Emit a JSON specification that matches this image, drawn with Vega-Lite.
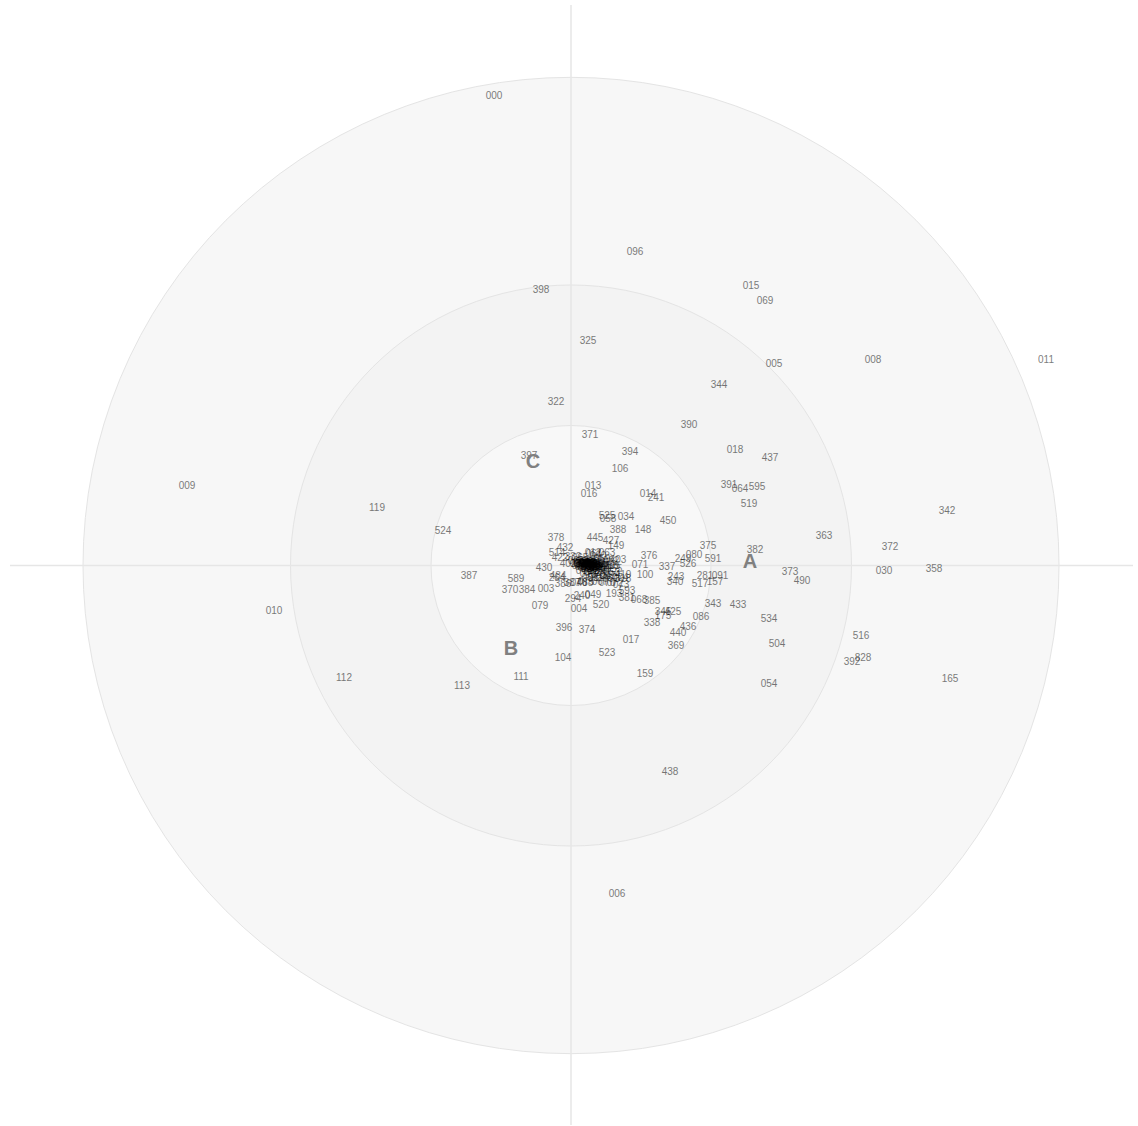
{
  "$schema": "https://vega.github.io/schema/vega-lite/v6.json",
  "width": 1138,
  "height": 1126,
  "autosize": {"type": "fit", "contains": "padding"},
  "padding": 0,
  "background": "white",
  "config": {"view": {"stroke": null}},
  "datasets": {
    "center": [{"x": 0, "y": 0}],
    "axes": [
      {"x": 0, "x2": 0, "y": 561, "y2": -560},
      {"x": -561, "x2": 562, "y": 0, "y2": 0}
    ],
    "groups": [
      {"label": "A", "x": 179, "y": 5},
      {"label": "B", "x": -60, "y": -83},
      {"label": "C", "x": -38, "y": 105}
    ],
    "labels": [
      {"id": "000", "x": -77, "y": 471},
      {"id": "096", "x": 64, "y": 315},
      {"id": "015", "x": 180, "y": 281},
      {"id": "069", "x": 194, "y": 266},
      {"id": "398", "x": -30, "y": 277},
      {"id": "325", "x": 17, "y": 226},
      {"id": "005", "x": 203, "y": 203},
      {"id": "008", "x": 302, "y": 207},
      {"id": "011", "x": 475, "y": 207},
      {"id": "344", "x": 148, "y": 182},
      {"id": "322", "x": -15, "y": 165},
      {"id": "390", "x": 118, "y": 142},
      {"id": "371", "x": 19, "y": 132},
      {"id": "018", "x": 164, "y": 117},
      {"id": "437", "x": 199, "y": 109},
      {"id": "394", "x": 59, "y": 115},
      {"id": "397", "x": -42, "y": 111},
      {"id": "106", "x": 49, "y": 98},
      {"id": "009", "x": -384, "y": 81},
      {"id": "013", "x": 22, "y": 81},
      {"id": "016", "x": 18, "y": 73},
      {"id": "391", "x": 158, "y": 82},
      {"id": "064", "x": 169, "y": 78},
      {"id": "595", "x": 186, "y": 80},
      {"id": "014", "x": 77, "y": 73},
      {"id": "241", "x": 85, "y": 69},
      {"id": "519", "x": 178, "y": 63},
      {"id": "119", "x": -194, "y": 59},
      {"id": "342", "x": 376, "y": 56},
      {"id": "525", "x": 36, "y": 51},
      {"id": "058", "x": 37, "y": 48},
      {"id": "034", "x": 55, "y": 50},
      {"id": "450", "x": 97, "y": 46},
      {"id": "524", "x": -128, "y": 36},
      {"id": "388", "x": 47, "y": 37},
      {"id": "148", "x": 72, "y": 37},
      {"id": "363", "x": 253, "y": 31},
      {"id": "378", "x": -15, "y": 29},
      {"id": "445", "x": 24, "y": 29},
      {"id": "427", "x": 40, "y": 26},
      {"id": "149", "x": 45, "y": 21},
      {"id": "375", "x": 137, "y": 21},
      {"id": "372", "x": 319, "y": 20},
      {"id": "382", "x": 184, "y": 17},
      {"id": "432", "x": -6, "y": 19},
      {"id": "514", "x": -14, "y": 14},
      {"id": "376", "x": 78, "y": 11},
      {"id": "249", "x": 112, "y": 8},
      {"id": "080", "x": 123, "y": 12},
      {"id": "591", "x": 142, "y": 8},
      {"id": "422", "x": -11, "y": 9},
      {"id": "526", "x": 117, "y": 2},
      {"id": "071", "x": 69, "y": 1},
      {"id": "337", "x": 96, "y": -1},
      {"id": "430", "x": -27, "y": -2},
      {"id": "373", "x": 219, "y": -6},
      {"id": "030", "x": 313, "y": -5},
      {"id": "358", "x": 363, "y": -3},
      {"id": "387", "x": -102, "y": -10},
      {"id": "281", "x": 134, "y": -10},
      {"id": "091", "x": 149, "y": -10},
      {"id": "100", "x": 74, "y": -9},
      {"id": "243", "x": 105, "y": -11},
      {"id": "340", "x": 104, "y": -16},
      {"id": "517", "x": 129, "y": -18},
      {"id": "157", "x": 144, "y": -16},
      {"id": "490", "x": 231, "y": -15},
      {"id": "589", "x": -55, "y": -13},
      {"id": "484", "x": -13, "y": -10},
      {"id": "264", "x": -14, "y": -12},
      {"id": "386", "x": -8, "y": -18},
      {"id": "387", "x": 1, "y": -17},
      {"id": "488", "x": 14, "y": -17},
      {"id": "370", "x": -61, "y": -24},
      {"id": "384", "x": -44, "y": -24},
      {"id": "003", "x": -25, "y": -23},
      {"id": "593", "x": 56, "y": -25},
      {"id": "193", "x": 43, "y": -28},
      {"id": "381", "x": 56, "y": -32},
      {"id": "068", "x": 68, "y": -34},
      {"id": "385", "x": 81, "y": -35},
      {"id": "294", "x": 2, "y": -33},
      {"id": "240", "x": 11, "y": -30},
      {"id": "049", "x": 22, "y": -29},
      {"id": "010", "x": -297, "y": -45},
      {"id": "079", "x": -31, "y": -40},
      {"id": "004", "x": 8, "y": -43},
      {"id": "520", "x": 30, "y": -39},
      {"id": "343", "x": 142, "y": -38},
      {"id": "433", "x": 167, "y": -39},
      {"id": "345", "x": 92, "y": -46},
      {"id": "425", "x": 102, "y": -46},
      {"id": "175", "x": 92, "y": -50},
      {"id": "086", "x": 130, "y": -51},
      {"id": "338", "x": 81, "y": -57},
      {"id": "534", "x": 198, "y": -53},
      {"id": "436", "x": 117, "y": -61},
      {"id": "396", "x": -7, "y": -62},
      {"id": "374", "x": 16, "y": -64},
      {"id": "440", "x": 107, "y": -67},
      {"id": "516", "x": 290, "y": -70},
      {"id": "017", "x": 60, "y": -74},
      {"id": "369", "x": 105, "y": -80},
      {"id": "504", "x": 206, "y": -78},
      {"id": "523", "x": 36, "y": -87},
      {"id": "104", "x": -8, "y": -92},
      {"id": "392", "x": 281, "y": -96},
      {"id": "828", "x": 292, "y": -92},
      {"id": "159", "x": 74, "y": -108},
      {"id": "111", "x": -50, "y": -111},
      {"id": "112", "x": -227, "y": -112},
      {"id": "165", "x": 379, "y": -113},
      {"id": "113", "x": -109, "y": -120},
      {"id": "054", "x": 198, "y": -118},
      {"id": "438", "x": 99, "y": -206},
      {"id": "006", "x": 46, "y": -328},
      {"id": "403", "x": 47, "y": 7},
      {"id": "405", "x": 41, "y": 0},
      {"id": "402", "x": -3, "y": 3},
      {"id": "332", "x": 2, "y": 10},
      {"id": "012", "x": 22, "y": 14},
      {"id": "419", "x": 52, "y": -9},
      {"id": "318", "x": 52, "y": -13},
      {"id": "001", "x": 11, "y": 3},
      {"id": "002", "x": 14, "y": 1},
      {"id": "007", "x": 17, "y": 4},
      {"id": "019", "x": 19, "y": 0},
      {"id": "020", "x": 21, "y": 2},
      {"id": "021", "x": 15, "y": -2},
      {"id": "022", "x": 13, "y": 5},
      {"id": "023", "x": 23, "y": -1},
      {"id": "024", "x": 18, "y": -3},
      {"id": "025", "x": 20, "y": 5},
      {"id": "026", "x": 25, "y": 2},
      {"id": "027", "x": 9, "y": 0},
      {"id": "028", "x": 12, "y": -1},
      {"id": "029", "x": 16, "y": 2},
      {"id": "031", "x": 22, "y": 4},
      {"id": "032", "x": 24, "y": -3},
      {"id": "033", "x": 27, "y": 0},
      {"id": "035", "x": 29, "y": 3},
      {"id": "036", "x": 15, "y": 6},
      {"id": "037", "x": 19, "y": -5},
      {"id": "038", "x": 7, "y": 2},
      {"id": "039", "x": 26, "y": -5},
      {"id": "040", "x": 30, "y": -3},
      {"id": "041", "x": 32, "y": 0},
      {"id": "042", "x": 21, "y": -7},
      {"id": "043", "x": 17, "y": -8},
      {"id": "044", "x": 13, "y": -5},
      {"id": "045", "x": 28, "y": -9},
      {"id": "046", "x": 34, "y": -6},
      {"id": "047", "x": 37, "y": -10},
      {"id": "048", "x": 33, "y": -12},
      {"id": "050", "x": 40, "y": -13},
      {"id": "051", "x": 25, "y": -12},
      {"id": "052", "x": 19, "y": -12},
      {"id": "053", "x": 41, "y": -7},
      {"id": "055", "x": 43, "y": -3},
      {"id": "056", "x": 39, "y": 0},
      {"id": "057", "x": 35, "y": 4},
      {"id": "059", "x": 31, "y": 8},
      {"id": "060", "x": 27, "y": 11},
      {"id": "061", "x": 23, "y": 13},
      {"id": "062", "x": 40, "y": 6},
      {"id": "063", "x": 36, "y": 14},
      {"id": "065", "x": 9, "y": 9},
      {"id": "066", "x": 5, "y": 6},
      {"id": "067", "x": 29, "y": -16},
      {"id": "070", "x": 36, "y": -17},
      {"id": "072", "x": 44, "y": -17},
      {"id": "073", "x": 50, "y": -19},
      {"id": "074", "x": 49, "y": -12},
      {"id": "075", "x": 15, "y": -16},
      {"id": "076", "x": 8, "y": -17},
      {"id": "077", "x": 11, "y": 1},
      {"id": "078", "x": 13, "y": 3},
      {"id": "081", "x": 16, "y": 0},
      {"id": "082", "x": 18, "y": 2},
      {"id": "083", "x": 20, "y": -1},
      {"id": "084", "x": 22, "y": 0},
      {"id": "085", "x": 24, "y": 1},
      {"id": "087", "x": 14, "y": -1},
      {"id": "088", "x": 17, "y": 1},
      {"id": "089", "x": 19, "y": 3},
      {"id": "090", "x": 21, "y": -2},
      {"id": "092", "x": 12, "y": 2},
      {"id": "093", "x": 16, "y": 4},
      {"id": "094", "x": 23, "y": 3},
      {"id": "095", "x": 26, "y": -2},
      {"id": "097", "x": 10, "y": 4},
      {"id": "098", "x": 18, "y": -1},
      {"id": "099", "x": 15, "y": 3},
      {"id": "101", "x": 20, "y": 1},
      {"id": "102", "x": 25, "y": -1}
    ]
  },
  "encoding": {
    "x": {"field": "x", "type": "quantitative", "scale": {"domain": [-571, 567], "nice": false, "zero": false}, "axis": null},
    "y": {"field": "y", "type": "quantitative", "scale": {"domain": [-560, 566], "nice": false, "zero": false}, "axis": null}
  },
  "layer": [
    {
      "data": {"name": "center"},
      "mark": {"type": "point", "shape": "circle", "filled": true, "size": 952576, "fill": "#f7f7f7", "stroke": "#e4e4e4", "strokeWidth": 1, "opacity": 1, "fillOpacity": 1, "strokeOpacity": 1}
    },
    {
      "data": {"name": "center"},
      "mark": {"type": "point", "shape": "circle", "filled": true, "size": 314721, "fill": "#f3f3f3", "stroke": "#e4e4e4", "strokeWidth": 1, "opacity": 1, "fillOpacity": 1, "strokeOpacity": 1}
    },
    {
      "data": {"name": "center"},
      "mark": {"type": "point", "shape": "circle", "filled": true, "size": 78400, "fill": "#f8f8f8", "stroke": "#e4e4e4", "strokeWidth": 1, "opacity": 1, "fillOpacity": 1, "strokeOpacity": 1}
    },
    {
      "data": {"name": "axes"},
      "mark": {"type": "rule", "color": "#e6e6e6", "strokeWidth": 1.5},
      "encoding": {
        "x2": {"field": "x2"},
        "y2": {"field": "y2"}
      }
    },
    {
      "data": {"name": "labels"},
      "mark": {"type": "text", "font": "Liberation Sans", "fontSize": 10, "color": "#000000", "opacity": 0.52, "align": "center", "baseline": "middle", "dy": 1},
      "encoding": {"text": {"field": "id", "type": "nominal"}}
    },
    {
      "data": {"name": "groups"},
      "mark": {"type": "text", "font": "Liberation Sans", "fontSize": 20, "fontWeight": "bold", "color": "#808080", "align": "center", "baseline": "middle", "dy": 1},
      "encoding": {"text": {"field": "label", "type": "nominal"}}
    }
  ]
}
